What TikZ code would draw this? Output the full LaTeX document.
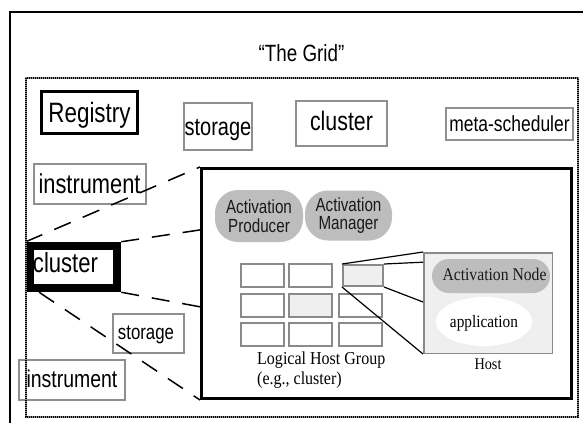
\documentclass[tikz,border=0pt]{standalone}
\usepackage{fontspec}
\usetikzlibrary{calc,shapes.geometric}
\newfontfamily\sfn[FakeStretch=0.8]{Liberation Sans}
\newfontfamily\srf[FakeStretch=0.88]{Liberation Serif}
\newcommand\myfs[1]{\fontsize{#1}{#1}\selectfont}
\definecolor{boxgray}{HTML}{8F8F8F}
\definecolor{cellgray}{HTML}{8A8A8A}
\definecolor{lightfill}{HTML}{EFEFEF}
\definecolor{ovalgray}{HTML}{BDBDBD}
\definecolor{txtdark}{HTML}{1A1A1A}
\begin{document}
\begin{tikzpicture}[x=1pt,y=-1pt,
  gbox/.style={draw=boxgray, line width=2pt, inner sep=0pt, text depth=0pt},
  kbox/.style={draw=black, inner sep=0pt, text depth=0pt},
  cellbox/.style={draw=cellgray, line width=2pt, fill=white, inner sep=0pt, minimum width=43pt, minimum height=23pt},
  oval/.style={fill=ovalgray, inner sep=0pt, align=center, text=txtdark},
  dl/.style={line width=1.5pt, dash pattern=on 18pt off 13pt},
  thin/.style={line width=1.2pt}]
\useasboundingbox (0,0) rectangle (583,423);
\fill[white] (0,0) rectangle (583,423);
% outer frame
\draw[line width=2.5pt] (10,423) -- (10,12) -- (583,12);
% title
\node[anchor=base, font=\sfn\myfs{23.5}] (title) at (301.5,61) {“The Grid”};
% top row boxes
\node[kbox, line width=3pt, minimum width=96pt, minimum height=42pt, text height=19pt, font=\sfn\myfs{28}] (reg) at (89.5,112.5) {Registry};
\node[gbox, minimum width=68pt, minimum height=47pt, text height=17pt, font=\sfn\myfs{25}] (st1) at (218,126.5) {storage};
\node[gbox, minimum width=91pt, minimum height=45pt, text height=13pt, font=\sfn\myfs{26.7}] (cl1) at (341.5,123.5) {cluster};
\node[gbox, minimum width=127pt, minimum height=32pt, text height=14pt, font=\sfn\myfs{21.8}] (meta) at (509.5,124) {meta-scheduler};
% left column boxes
\node[gbox, minimum width=112pt, minimum height=40pt, text height=18pt, font=\sfn\myfs{27.3}] (in1) at (89.5,184) {instrument};
\node[kbox, line width=8.5pt, minimum width=87pt, minimum height=42pt, text height=11.4pt, font=\sfn\myfs{27.6}] (clL) at (73.5,267) {cluster\hspace*{16pt}};
\node[gbox, minimum width=71pt, minimum height=39pt, text height=11pt, font=\sfn\myfs{21}] (st2) at (148.5,333.5) {storage\hspace*{5pt}};
\node[gbox, minimum width=106pt, minimum height=40pt, text height=14pt, font=\sfn\myfs{24.3}] (in2) at (72,380) {instrument};
% big box
\node[draw=black, line width=3pt, fill=white, minimum width=370pt, minimum height=230pt, inner sep=0pt] (big) at (386.5,283.5) {};
% activation producer / manager
\node[oval, rounded corners=23pt, minimum width=88pt, minimum height=52pt, font=\sfn\fontsize{19}{18.5}\selectfont] (prod) at (259,216) {Activation\\Producer};
\node[oval, rounded corners=23pt, minimum width=87pt, minimum height=50pt, font=\sfn\fontsize{19}{17.5}\selectfont] (mgr) at (348.5,215.5) {Activation\\Manager};
% logical host group cells
\node[cellbox] (c11) at (262.5,275.5) {};
\node[cellbox] (c12) at (310.5,275.5) {};
\node[cellbox, fill=lightfill, minimum width=40pt, minimum height=21pt] (c13) at (363,275.5) {};
\node[cellbox] (c21) at (262.5,305.5) {};
\node[cellbox, fill=lightfill] (c22) at (310.5,305.5) {};
\node[cellbox] (c23) at (360,305.5) {};
\node[cellbox] (c31) at (262.5,334.5) {};
\node[cellbox] (c32) at (310.5,334.5) {};
\node[cellbox] (c33) at (360,334.5) {};
\node[anchor=north west, inner sep=0pt, align=left, font=\srf\fontsize{18.2}{20}\selectfont] (lhg) at (257,351.5) {Logical Host Group\\(e.g., cluster)};
% host
\node[draw=cellgray, line width=1.5pt, fill=lightfill, minimum width=128.5pt, minimum height=100.5pt, inner sep=0pt] (host) at (488,303) {};
\node[fill=ovalgray, rounded corners=17pt, minimum width=118pt, minimum height=34pt, inner sep=0pt, text height=8pt, text depth=0pt, font=\srf\myfs{17.8}, text=txtdark] (anode) at (491,276) {\hspace*{7pt}Activation Node};
\node[ellipse, fill=white, minimum width=87pt, minimum height=49pt, inner sep=0pt, text height=12pt, text depth=0pt, font=\srf\myfs{17.4}] (app) at (484,321.5) {application};
\node[anchor=base, font=\srf\myfs{16.2}] (hostlbl) at (488,369) {Host};
% connectors cell -> host
\coordinate (h2) at ($(host.north west)!0.1!(host.south west)$);
\coordinate (h3) at ($(host.north west)!0.49!(host.south west)$);
\draw[thin] (c13.north west) -- (host.north west);
\draw[thin] (c13.north east) -- (h2);
\draw[thin] (c13.south east) -- (h3);
\draw[thin] (c13.south west) -- (host.south west);
% dashed zoom lines
\coordinate (b2) at ($(big.north west)!0.27!(big.south west)$);
\coordinate (b3) at ($(big.north west)!0.6!(big.south west)$);
\coordinate (s4) at ($(clL.south west)!0.14!(clL.south east)$);
\draw[dl] (clL.north west) -- (big.north west);
\draw[dl] (clL.north east) -- (b2);
\draw[dl] (clL.south east) -- (b3);
\draw[dl] (s4) -- (big.south west);
% dotted grid frame (hatched look)
\draw[line width=2pt, color=black!45] (26,78) rectangle (578,417);
\draw[line width=2pt, color=black, dash pattern=on 1pt off 1pt] (26,78) rectangle (578,417);
\end{tikzpicture}
\end{document}
